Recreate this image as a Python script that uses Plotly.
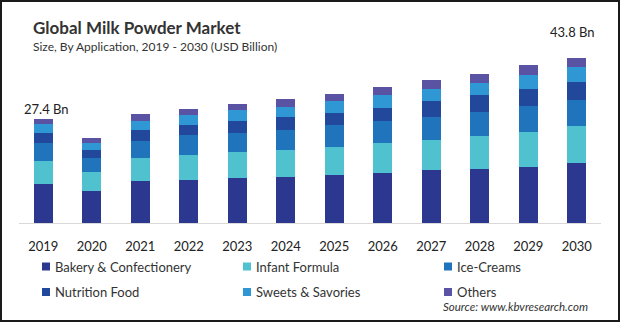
import plotly.graph_objects as go

# --- data -------------------------------------------------------------
years = ["2019", "2020", "2021", "2022", "2023", "2024",
         "2025", "2026", "2027", "2028", "2029", "2030"]

bakery = [10.4, 8.6, 11.0, 11.5, 11.8, 12.2, 12.7, 13.3, 14.0, 14.3, 14.9, 15.8]
infant = [6.1, 5.0, 6.3, 6.4, 7.0, 7.0, 7.5, 7.9, 7.9, 8.8, 9.2, 9.8]
ice_creams = [4.7, 3.7, 4.5, 5.3, 5.1, 5.5, 5.7, 5.8, 6.2, 6.3, 6.9, 7.0]
nutrition = [2.5, 2.0, 2.8, 2.8, 3.2, 3.4, 3.3, 3.5, 4.2, 4.4, 4.6, 4.7]
sweets = [2.4, 1.9, 2.5, 2.6, 2.8, 2.7, 3.0, 3.4, 3.3, 3.3, 3.7, 4.0]
others = [1.3, 1.3, 1.8, 1.7, 1.6, 2.1, 2.0, 2.0, 2.2, 2.4, 2.5, 2.5]

series_names = ["Bakery & Confectionery", "Infant Formula", "Ice-Creams",
                "Nutrition Food", "Sweets & Savories", "Others"]
series_values = [bakery, infant, ice_creams, nutrition, sweets, others]
series_colors = ["#2c3790", "#4fc1cf", "#1f74bb", "#22489b", "#2f97d4", "#5a52a3"]

totals = [round(sum(v), 1) for v in zip(*series_values)]

# --- geometry (pixels) ------------------------------------------------
W, H = 620, 322
ML, MR, MT, MB = 19, 19, 53, 99
PW, PH = W - ML - MR, H - MT - MB
FONT = "Lato, 'Open Sans', sans-serif"


def xp(px):
    return (px - ML) / PW


def yp(py):
    return (H - MB - py) / PH


fig = go.Figure()
for name, vals, col in zip(series_names, series_values, series_colors):
    fig.add_trace(go.Bar(x=years, y=vals, name=name, marker_color=col,
                         marker_line_width=0, showlegend=False))

# total labels on first and last bars (x given as category index)
for idx, xs, ys in [(0, 3, 0), (len(years) - 1, -4, 16)]:
    fig.add_annotation(x=idx, y=totals[idx], text=f"{totals[idx]} Bn",
                       showarrow=False, xanchor="center", yanchor="bottom",
                       xshift=xs, yshift=ys,
                       font=dict(family=FONT, size=13, color="#222222"))

# legend: coloured squares + labels in a 3 x 2 grid
col_x = [42, 243, 444]
row_y = [266.5, 292]
shapes = []
for i, (name, col) in enumerate(zip(series_names, series_colors)):
    cx = col_x[i % 3]
    cy = row_y[i // 3]
    shapes.append(dict(type="rect", xref="paper", yref="paper",
                       x0=xp(cx), x1=xp(cx + 8), y0=yp(cy + 4), y1=yp(cy - 4),
                       fillcolor=col, line_width=0))
    fig.add_annotation(xref="paper", yref="paper", x=xp(cx + 11), y=yp(cy),
                       text=name, showarrow=False, xanchor="left", yanchor="middle",
                       font=dict(family=FONT, size=13, color="#333333"))

# outer frame
shapes.append(dict(type="rect", xref="paper", yref="paper",
                   x0=xp(1), x1=xp(619), y0=yp(321), y1=yp(1),
                   line=dict(color="#1a1a1a", width=2), fillcolor="rgba(0,0,0,0)"))

# titles and source
fig.add_annotation(xref="paper", yref="paper", x=xp(31), y=yp(27.5),
                   text="<b>Global Milk Powder Market</b>", showarrow=False,
                   xanchor="left", yanchor="middle",
                   font=dict(family=FONT, size=17, color="#333333"))
fig.add_annotation(xref="paper", yref="paper", x=xp(31), y=yp(46.5),
                   text="Size, By Application, 2019 - 2030 (USD Billion)",
                   showarrow=False, xanchor="left", yanchor="middle",
                   font=dict(family=FONT, size=12, color="#333333"))
fig.add_annotation(xref="paper", yref="paper", x=xp(441), y=yp(306.5),
                   text="<i>Source: www.kbvresearch.com</i>", showarrow=False,
                   xanchor="left", yanchor="middle",
                   font=dict(family=FONT, size=11.5, color="#333333"))

fig.update_layout(
    width=W, height=H,
    margin=dict(l=ML, r=MR, t=MT, b=MB, pad=0, autoexpand=False),
    barmode="stack", bargap=0.61,
    plot_bgcolor="white", paper_bgcolor="white",
    shapes=shapes,
    xaxis=dict(type="category", range=[-0.5, len(years) - 0.5],
               showgrid=False, showline=True,
               linecolor="#d9d9d9", linewidth=1, automargin=False,
               ticks="", ticklabelstandoff=11, zeroline=False,
               tickfont=dict(family=FONT, size=13, color="#222222")),
    yaxis=dict(range=[0, 45], visible=False, showgrid=False, zeroline=False,
               automargin=False),
)

fig.write_html("out.html")
